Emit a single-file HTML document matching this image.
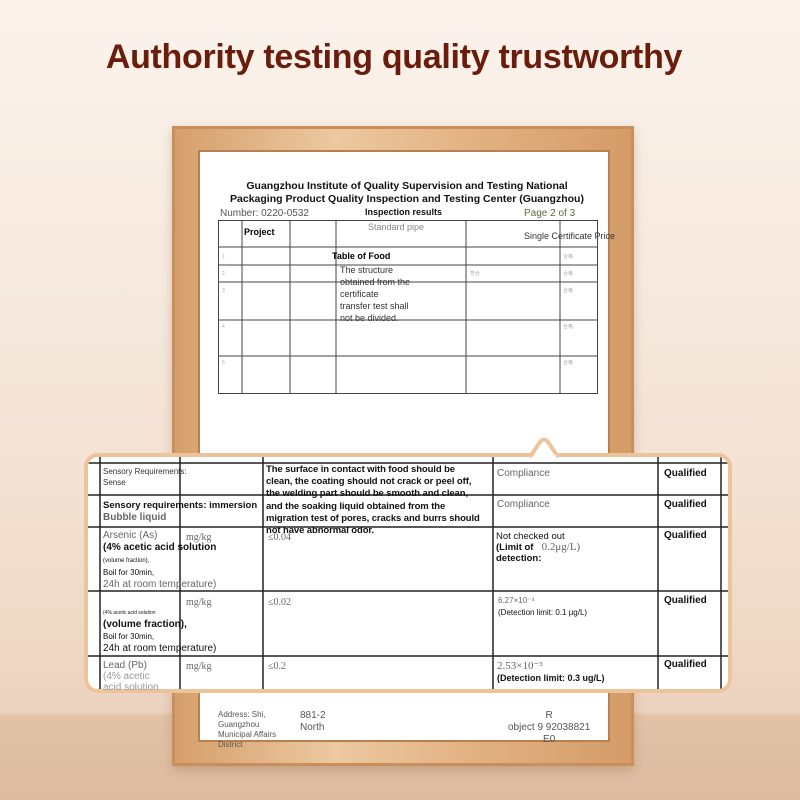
<!DOCTYPE html>
<html><head><meta charset="utf-8"><style>
*{margin:0;padding:0;box-sizing:border-box}
body{width:800px;height:800px;overflow:hidden;position:relative;font-family:"Liberation Sans","Noto Sans CJK SC",sans-serif;background:linear-gradient(180deg,#fbf3ec 0%,#f3e2d4 60%,#ecd3bf 89%,#e2c3a8 89.5%,#dcbb9f 100%)}
.a{position:absolute}
.t{font-size:10px;color:#111;line-height:12px}
.b{font-weight:bold}
.g{color:#666}
</style></head><body>
<div class="a b" style="left:0;top:38px;width:788px;text-align:center;font-size:34px;color:#6a1d0c;letter-spacing:-0.3px">Authority testing quality trustworthy</div>

<div class="a" style="left:172px;top:126px;width:462px;height:640px;background:linear-gradient(90deg,#d59f6c,#ecc8a0 35%,#e2b283 65%,#d39c68);border:3px solid #c88f5c;box-shadow:0 4px 10px rgba(120,70,30,.25)"></div>
<div class="a" style="left:200px;top:152px;width:408px;height:588px;background:#fff;box-shadow:0 0 0 2px #b7804e"></div>

<div class="a t b" style="left:212px;top:180px;width:390px;text-align:center;font-size:10.5px;line-height:13px">Guangzhou Institute of Quality Supervision and Testing National<br>Packaging Product Quality Inspection and Testing Center (Guangzhou)</div>
<div class="a t" style="left:220px;top:208px;color:#555">Number: 0220-0532</div>
<div class="a t b" style="left:365px;top:206px;font-size:9px">Inspection results</div>
<div class="a t" style="left:524px;top:208px;color:#5a6b3a">Page 2 of 3</div>
<div class="a t" style="left:524px;top:230px;font-size:9px;color:#333">Single Certificate Price</div>

<svg class="a" style="left:218px;top:220px" width="380" height="175">
<g stroke="#444" stroke-width="1" fill="none">
<rect x="0.5" y="0.5" width="379" height="173"/>
<line x1="0" y1="27" x2="380" y2="27"/><line x1="0" y1="45" x2="380" y2="45"/><line x1="0" y1="62" x2="380" y2="62"/><line x1="0" y1="100" x2="380" y2="100"/><line x1="0" y1="136" x2="380" y2="136"/>
<line x1="24" y1="0" x2="24" y2="174"/><line x1="72" y1="0" x2="72" y2="174"/><line x1="118" y1="0" x2="118" y2="174"/><line x1="248" y1="0" x2="248" y2="174"/><line x1="342" y1="0" x2="342" y2="174"/>
</g>
<g fill="#aaa" font-size="5" font-family="Liberation Sans">
<text x="4" y="38">1</text><text x="4" y="55">2</text><text x="4" y="72">3</text><text x="4" y="108">4</text><text x="4" y="144">5</text>
<text x="252" y="55">符合</text><text x="345" y="38">合格</text><text x="345" y="55">合格</text><text x="345" y="72">合格</text><text x="345" y="108">合格</text><text x="345" y="144">合格</text>
</g>
<text x="26" y="15" font-size="9" font-weight="bold" font-family="Liberation Sans">Project</text>
<text x="150" y="10" font-size="9" fill="#888" font-family="Liberation Sans">Standard pipe</text>
<text x="114" y="39" font-size="9" font-weight="bold" font-family="Liberation Sans">Table of Food</text>
<text x="122" y="53" font-size="9" fill="#333" font-family="Liberation Sans">The structure</text>
<text x="122" y="65" font-size="9" fill="#333" font-family="Liberation Sans">obtained from the</text>
<text x="122" y="77" font-size="9" fill="#333" font-family="Liberation Sans">certificate</text>
<text x="122" y="89" font-size="9" fill="#333" font-family="Liberation Sans">transfer test shall</text>
<text x="122" y="101" font-size="9" fill="#333" font-family="Liberation Sans">not be divided.</text>
</svg>

<div class="a t" style="left:218px;top:710px;font-size:8px;line-height:10px;color:#555">Address: Shi,<br>Guangzhou<br>Municipal Affairs<br>District</div>
<div class="a t" style="left:300px;top:710px;color:#555">881-2<br>North</div>
<div class="a t" style="left:508px;top:710px;color:#555;text-align:center">R<br>object 9 92038821<br>E0</div>

<div class="a" style="left:84px;top:453px;width:648px;height:240px;border:4px solid #edc49a;border-radius:14px;background:#fff;overflow:hidden">
<svg class="a" style="left:0;top:0" width="640" height="232">
<g stroke="#222" stroke-width="1.5">
<line x1="0" y1="6" x2="640" y2="6"/><line x1="0" y1="38" x2="640" y2="38"/><line x1="0" y1="70" x2="640" y2="70"/><line x1="0" y1="134" x2="640" y2="134"/><line x1="0" y1="199" x2="640" y2="199"/>
<line x1="12" y1="0" x2="12" y2="232"/><line x1="92" y1="0" x2="92" y2="232"/><line x1="175" y1="0" x2="175" y2="232"/><line x1="405" y1="0" x2="405" y2="232"/><line x1="570" y1="0" x2="570" y2="232"/><line x1="633" y1="0" x2="633" y2="232"/>
</g></svg>
</div>
<svg class="a" style="left:528px;top:436px" width="34" height="22"><path d="M2 21 L12 6 Q16 1 20 6 L30 21" fill="#fff" stroke="#edc49a" stroke-width="4"/><rect x="6" y="19" width="22" height="4" fill="#fff"/></svg>

<div class="a t" style="left:103px;top:466px;font-size:8px;line-height:11px;color:#333">Sensory Requirements:<br>Sense</div>
<div class="a t b" style="left:266px;top:464px;width:214px;font-size:9.5px;line-height:12.2px;letter-spacing:-0.1px">The surface in contact with food should be clean, the coating should not crack or peel off, the welding part should be smooth and clean, and the soaking liquid obtained from the migration test of pores, cracks and burrs should not have abnormal odor.</div>
<div class="a t g" style="left:497px;top:468px">Compliance</div>
<div class="a t b" style="left:664px;top:468px">Qualified</div>

<div class="a t" style="left:103px;top:500px"><b style="font-size:9.5px">Sensory requirements: immersion</b><br><span class="g b">Bubble liquid</span></div>
<div class="a t g" style="left:497px;top:499px">Compliance</div>
<div class="a t b" style="left:664px;top:499px">Qualified</div>

<div class="a t" style="left:103px;top:530px;line-height:12px"><span class="g">Arsenic (As)</span><br><b>(4% acetic acid solution</b><br><span style="font-size:6px">(volume fraction),</span><br><span style="font-size:8px">Boil for 30min,</span><br><span class="g">24h at room temperature)</span></div>
<div class="a t g" style="left:186px;top:532px;font-family:'Liberation Serif',serif">mg/kg</div>
<div class="a t g" style="left:268px;top:532px;font-family:'Liberation Serif',serif">≤0.04</div>
<div class="a t" style="left:496px;top:531px;font-size:9.5px;line-height:11px">Not checked out<br><b>(Limit of</b> <span class="g" style="font-family:'Liberation Serif',serif;font-size:11px">&nbsp;&nbsp;0.2μg/L)</span><br><b>detection:</b></div>
<div class="a t b" style="left:664px;top:530px">Qualified</div>

<div class="a t" style="left:103px;top:606px;line-height:12px"><span style="font-size:5px">(4% acetic acid solution</span><br><b>(volume fraction),</b><br><span style="font-size:8px">Boil for 30min,</span><br><span>24h at room temperature)</span></div>
<div class="a t g" style="left:186px;top:597px;font-family:'Liberation Serif',serif">mg/kg</div>
<div class="a t g" style="left:268px;top:597px;font-family:'Liberation Serif',serif">≤0.02</div>
<div class="a t" style="left:498px;top:595px;font-size:8px"><span class="g">6.27×10⁻⁴</span><br>(Detection limit: 0.1 μg/L)</div>
<div class="a t b" style="left:664px;top:595px">Qualified</div>

<div class="a t" style="left:103px;top:660px;line-height:11px"><span class="g">Lead (Pb)</span><br><span class="g" style="color:#999">(4% acetic<br>acid solution</span></div>
<div class="a t g" style="left:186px;top:661px;font-family:'Liberation Serif',serif">mg/kg</div>
<div class="a t g" style="left:268px;top:661px;font-family:'Liberation Serif',serif">≤0.2</div>
<div class="a t" style="left:497px;top:660px;font-size:9px;line-height:12px"><span class="g" style="font-family:'Liberation Serif',serif;font-size:11px">2.53×10⁻³</span><br><b>(Detection limit: 0.3 ug/L)</b></div>
<div class="a t b" style="left:664px;top:659px">Qualified</div>
</body></html>
